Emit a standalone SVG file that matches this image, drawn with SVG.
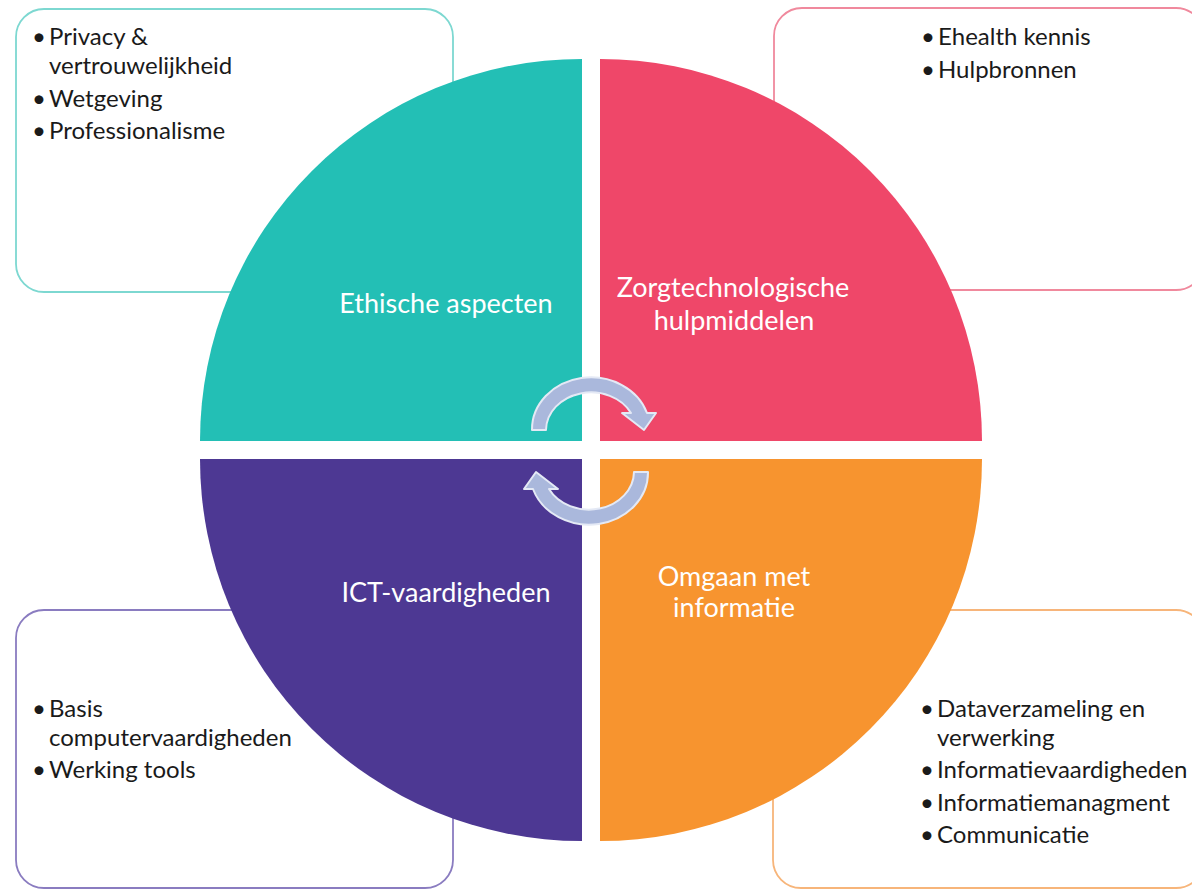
<svg xmlns="http://www.w3.org/2000/svg" width="1192" height="890" viewBox="0 0 1192 890">
<style>
.box{fill:#fff;stroke-width:1.8}
.bt{font-family:Lato,"Liberation Sans",sans-serif;font-size:24px;fill:#1a1a1a}
.lb{font-family:Lato,"Liberation Sans",sans-serif;font-size:27px;fill:#fff;text-anchor:middle}
.arr{fill:#aab8dc;stroke:#e4e9f5;stroke-width:2;stroke-linejoin:round}
</style>
<rect width="1192" height="890" fill="#fff"/>
<g id="box-ethisch">
<rect class="box" x="16" y="9" width="437" height="283" rx="28" stroke="#7dd8d1"/>
<text class="bt" x="32" y="45">•</text><text class="bt" x="49" y="45">Privacy &amp;</text>
<text class="bt" x="49" y="74">vertrouwelijkheid</text>
<text class="bt" x="32" y="107">•</text><text class="bt" x="49" y="107">Wetgeving</text>
<text class="bt" x="32" y="139">•</text><text class="bt" x="49" y="139">Professionalisme</text>
</g>
<g id="box-zorg">
<rect class="box" x="774" y="8" width="430" height="282" rx="28" stroke="#f0899d"/>
<text class="bt" x="921" y="45">•</text><text class="bt" x="938" y="45">Ehealth kennis</text>
<text class="bt" x="921" y="78">•</text><text class="bt" x="938" y="78">Hulpbronnen</text>
</g>
<g id="box-ict">
<rect class="box" x="16" y="610" width="437" height="278" rx="28" stroke="#8a7cc0"/>
<text class="bt" x="32" y="717">•</text><text class="bt" x="49" y="717">Basis</text>
<text class="bt" x="49" y="746">computervaardigheden</text>
<text class="bt" x="32" y="778">•</text><text class="bt" x="49" y="778">Werking tools</text>
</g>
<g id="box-info">
<rect class="box" x="773" y="610" width="431" height="278" rx="28" stroke="#f7b57a"/>
<text class="bt" x="920" y="717">•</text><text class="bt" x="937" y="717">Dataverzameling en</text>
<text class="bt" x="937" y="746">verwerking</text>
<text class="bt" x="920" y="778">•</text><text class="bt" x="937" y="778">Informatievaardigheden</text>
<text class="bt" x="920" y="811">•</text><text class="bt" x="937" y="811">Informatiemanagment</text>
<text class="bt" x="920" y="843">•</text><text class="bt" x="937" y="843">Communicatie</text>
</g>
<g id="q-ethisch">
<path d="M582,441 L200,441 A382,382 0 0 1 582,59 Z" fill="#23bfb5"/>
<text class="lb" x="446" y="313">Ethische aspecten</text>
</g>
<g id="q-zorg">
<path d="M600,441 L600,59 A382,382 0 0 1 982,441 Z" fill="#ef4769"/>
<text class="lb" x="733" y="297">Zorgtechnologische</text>
<text class="lb" x="734" y="330">hulpmiddelen</text>
</g>
<g id="q-ict">
<path d="M582,459 L582,841 A382,382 0 0 1 200,459 Z" fill="#4d3893"/>
<text class="lb" x="446" y="602">ICT-vaardigheden</text>
</g>
<g id="q-info">
<path d="M600,459 L982,459 A382,382 0 0 1 600,841 Z" fill="#f7942f"/>
<text class="lb" x="734" y="586">Omgaan met</text>
<text class="lb" x="734" y="617">informatie</text>
</g>
<g id="connectors">
<path id="arrow-top" class="arr" d="M532,430 A59,52 0 0 1 647,413 L656,413 L644,430 L622,413 L631,413 A45,38 0 0 0 546,430 Z"/>
<path id="arrow-bottom" class="arr" transform="rotate(180 590 451)" d="M532,430 A59,52 0 0 1 647,413 L656,413 L644,430 L622,413 L631,413 A45,38 0 0 0 546,430 Z"/>
</g>
</svg>
